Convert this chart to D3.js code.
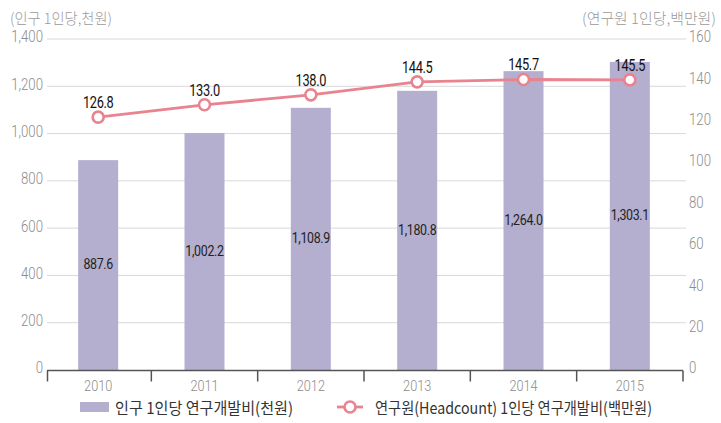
<!DOCTYPE html>
<html><head><meta charset="utf-8">
<script src="https://cdn.jsdelivr.net/npm/d3@7"></script>
<style>
body{margin:0;background:#fff;}
svg{display:block;}
.num{font-family:"Roboto","Liberation Sans",sans-serif;}
.kr{font-family:"Noto Sans CJK KR","Noto Sans",sans-serif;}
</style></head>
<body>
<svg id="chart" width="721" height="423"></svg>
<script>
const years = ["2010","2011","2012","2013","2014","2015"];
const perCapita = [887.6, 1002.2, 1108.9, 1180.8, 1264.0, 1303.1];
const perResearcher = [126.8, 133.0, 138.0, 144.5, 145.7, 145.5];
const leftTicks = [0,200,400,600,800,1000,1200,1400];
const rightTicks = [0,20,40,60,80,100,120,140,160];
const leftTitle = "(인구 1인당,천원)";
const rightTitle = "(연구원 1인당,백만원)";
const legend1 = "인구 1인당 연구개발비(천원)";
const legend2 = "연구원(Headcount) 1인당 연구개발비(백만원)";

const svg = d3.select("#chart");
svg.append("rect").attr("width",721).attr("height",423).attr("fill","#fff");

const x = d3.scaleBand().domain(years).range([45,683]).padding(0);
const yL = d3.scaleLinear().domain([0,1400]).range([370,39]);
const yR = d3.scaleLinear().domain([0,160]).range([370,39]);
const yLine = d3.scaleLinear().domain([0,166]).range([370,39]);
const barW = 40;
const grey = "#8c8c8c";

function place(sel, fx, fy, sx){
  sel.attr("x",0).attr("y",0)
     .attr("transform",(d,i)=>`translate(${fx(d,i)},${fy(d,i)}) scale(${sx},1)`);
  return sel;
}

// gridlines
svg.append("g").selectAll("line").data(leftTicks.filter(d=>d>0)).join("line")
  .attr("x1",47).attr("x2",686).attr("y1",d=>yL(d)).attr("y2",d=>yL(d))
  .attr("stroke","#d8d8d8").attr("stroke-width",1);

// left tick labels
place(svg.append("g").selectAll("text").data(leftTicks).join("text"),
  ()=>43, d=>yL(d)-1, 0.8)
  .attr("class","num").attr("text-anchor","end").attr("dominant-baseline","middle")
  .attr("font-size",16.5).attr("font-weight",300).attr("fill",grey)
  .text(d=>d3.format(",")(d));

// right tick labels
place(svg.append("g").selectAll("text").data(rightTicks).join("text"),
  ()=>689, d=>yR(d)-1, 0.8)
  .attr("class","num").attr("text-anchor","start").attr("dominant-baseline","middle")
  .attr("font-size",16.5).attr("font-weight",300).attr("fill",grey)
  .text(d=>d);

// titles
svg.append("text").attr("class","kr").attr("x",10).attr("y",24)
  .attr("font-size",15).attr("font-weight",300).attr("fill","#9a9a9a")
  .attr("textLength",102).attr("lengthAdjust","spacingAndGlyphs").text(leftTitle);
svg.append("text").attr("class","kr").attr("x",582).attr("y",24)
  .attr("font-size",15).attr("font-weight",300).attr("fill","#9a9a9a")
  .attr("textLength",134).attr("lengthAdjust","spacingAndGlyphs").text(rightTitle);

// bars
svg.append("g").selectAll("rect").data(years).join("rect")
  .attr("x",(d)=>x(d)+x.bandwidth()/2-barW/2)
  .attr("width",barW)
  .attr("y",(d,i)=>yL(perCapita[i]))
  .attr("height",(d,i)=>yL(0)-yL(perCapita[i]))
  .attr("fill","#b4aecf");

// bar labels
place(svg.append("g").selectAll("text").data(years).join("text"),
  d=>x(d)+x.bandwidth()/2, (d,i)=>(yL(perCapita[i])+yL(0))/2, 0.8)
  .attr("class","num").attr("text-anchor","middle").attr("dominant-baseline","middle")
  .attr("font-size",15.5).attr("letter-spacing",-0.4).attr("fill","#222")
  .text((d,i)=>d3.format(",.1f")(perCapita[i]));

// bottom axis
const axisY = 370.5;
const ax = svg.append("g");
ax.append("line").attr("x1",47).attr("x2",683).attr("y1",axisY).attr("y2",axisY)
  .attr("stroke","#555").attr("stroke-width",1.5);
const edges = years.map(d=>x(d)).concat([x(years[years.length-1])+x.bandwidth()]);
ax.selectAll("line.t").data(edges).join("line").attr("class","t")
  .attr("x1",(d,i)=>i===0?47.5:d).attr("x2",(d,i)=>i===0?47.5:d)
  .attr("y1",axisY).attr("y2",axisY+11)
  .attr("stroke","#555").attr("stroke-width",1.5);
place(ax.selectAll("text").data(years).join("text"),
  d=>x(d)+x.bandwidth()/2, ()=>387, 0.82)
  .attr("class","num").attr("text-anchor","middle").attr("dominant-baseline","middle")
  .attr("font-size",15.5).attr("font-weight",300).attr("fill",grey).text(d=>d);

// line
const lineColor = "#e8838f";
const pts = years.map((d,i)=>[x(d)+x.bandwidth()/2, yLine(perResearcher[i])]);
svg.append("path").attr("d",d3.line()(pts)).attr("fill","none")
  .attr("stroke",lineColor).attr("stroke-width",2.8);
svg.append("g").selectAll("circle").data(pts).join("circle")
  .attr("cx",d=>d[0]).attr("cy",d=>d[1]).attr("r",5.5)
  .attr("fill","#fff").attr("stroke",lineColor).attr("stroke-width",2.6);
place(svg.append("g").selectAll("text").data(years).join("text"),
  d=>x(d)+x.bandwidth()/2, (d,i)=>yLine(perResearcher[i])-9, 0.8)
  .attr("class","num").attr("text-anchor","middle")
  .attr("font-size",16).attr("letter-spacing",-0.4).attr("fill","#111")
  .text((d,i)=>perResearcher[i].toFixed(1));

// legend
const lg = svg.append("g");
lg.append("rect").attr("x",80).attr("y",402).attr("width",29).attr("height",10).attr("fill","#b4aecf");
lg.append("text").attr("class","kr").attr("x",115).attr("y",414)
  .attr("font-size",16).attr("fill","#333")
  .attr("textLength",178).attr("lengthAdjust","spacingAndGlyphs").text(legend1);
lg.append("line").attr("x1",337).attr("x2",363).attr("y1",407).attr("y2",407)
  .attr("stroke",lineColor).attr("stroke-width",2.8);
lg.append("circle").attr("cx",350).attr("cy",407).attr("r",5.5)
  .attr("fill","#fff").attr("stroke",lineColor).attr("stroke-width",2.6);
lg.append("text").attr("class","kr").attr("x",375).attr("y",414)
  .attr("font-size",16).attr("fill","#333")
  .attr("textLength",277).attr("lengthAdjust","spacingAndGlyphs").text(legend2);
</script>
</body></html>
